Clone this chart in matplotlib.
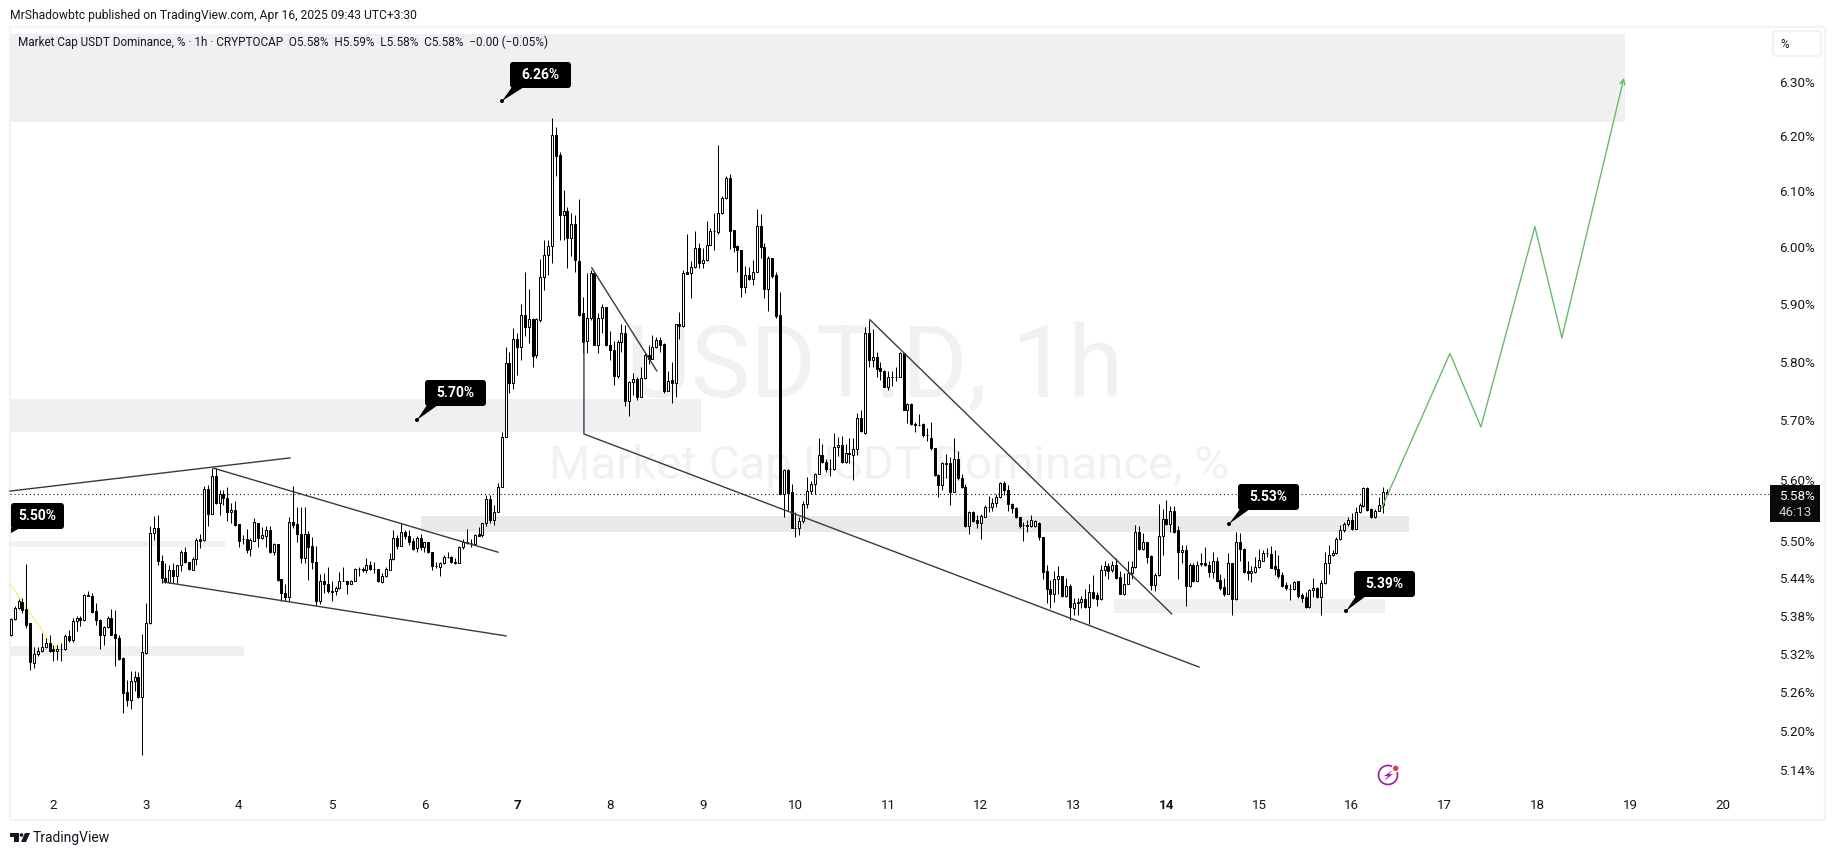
import matplotlib
matplotlib.use("Agg")
import matplotlib.pyplot as plt
import numpy as np
from matplotlib.patches import Rectangle, FancyBboxPatch, Polygon, Circle
from matplotlib.transforms import Affine2D

plt.rcParams["font.family"] = ["Roboto", "DejaVu Sans"]

# USDT.D 1h candles (13:00 Apr 1 to 09:00 Apr 16)
opens = [
    5.349,5.375,5.392,5.402,5.390,5.368,5.306,5.319,5.324,5.330,
    5.337,5.327,5.324,5.327,5.327,5.348,5.341,5.372,5.376,5.373,
    5.413,5.412,5.387,5.374,5.350,5.362,5.376,5.351,5.344,5.313,
    5.260,5.247,5.277,5.284,5.252,5.321,5.368,5.513,5.521,5.467,
    5.441,5.434,5.454,5.443,5.461,5.483,5.466,5.454,5.471,5.503,
    5.502,5.585,5.544,5.607,5.562,5.577,5.570,5.547,5.551,5.528,
    5.503,5.503,5.487,5.501,5.529,5.505,5.509,5.518,5.482,5.496,
    5.438,5.416,5.410,5.531,5.528,5.512,5.472,5.512,5.492,5.466,
    5.404,5.436,5.430,5.419,5.419,5.424,5.436,5.436,5.431,5.436,
    5.455,5.455,5.453,5.461,5.455,5.455,5.434,5.443,5.454,5.471,
    5.505,5.492,5.515,5.509,5.501,5.489,5.505,5.490,5.498,5.483,
    5.460,5.458,5.464,5.475,5.474,5.466,5.465,5.491,5.499,5.497,
    5.496,5.511,5.510,5.529,5.569,5.534,5.547,5.588,5.672,5.797,
    5.764,5.838,5.825,5.880,5.860,5.874,5.811,5.872,5.946,5.985,
    6.002,6.202,6.165,6.056,6.064,6.015,6.040,5.975,5.883,5.836,
    5.875,5.953,5.829,5.875,5.894,5.829,5.820,5.776,5.833,5.849,
    5.733,5.765,5.770,5.740,5.771,5.811,5.805,5.825,5.837,5.830,
    5.750,5.768,5.763,5.864,5.861,5.955,5.954,5.964,5.998,5.972,
    5.976,6.004,6.028,6.027,6.060,6.087,6.124,6.030,6.001,5.994,
    5.930,5.950,5.944,5.955,6.037,5.999,5.926,5.980,5.950,5.880,
    5.578,5.617,5.580,5.522,5.521,5.533,5.560,5.582,5.594,5.611,
    5.642,5.630,5.619,5.619,5.655,5.659,5.630,5.646,5.642,5.652,
    5.704,5.679,5.849,5.802,5.807,5.789,5.784,5.757,5.773,5.773,
    5.774,5.814,5.718,5.727,5.693,5.692,5.693,5.676,5.670,5.653,
    5.609,5.592,5.627,5.629,5.581,5.636,5.603,5.589,5.525,5.548,
    5.534,5.530,5.540,5.556,5.556,5.562,5.572,5.596,5.584,5.561,
    5.554,5.540,5.526,5.526,5.524,5.524,5.529,5.506,5.451,5.423,
    5.415,5.438,5.443,5.411,5.428,5.393,5.400,5.402,5.406,5.394,
    5.418,5.413,5.406,5.454,5.460,5.453,5.462,5.442,5.415,5.431,
    5.449,5.458,5.515,5.487,5.498,5.476,5.429,5.445,5.509,5.536,
    5.528,5.549,5.518,5.482,5.486,5.427,5.462,5.436,5.463,5.464,
    5.462,5.450,5.468,5.437,5.426,5.415,5.464,5.406,5.498,5.488,
    5.451,5.448,5.450,5.458,5.468,5.480,5.479,5.459,5.455,5.445,
    5.429,5.423,5.423,5.435,5.413,5.410,5.394,5.421,5.425,5.410,
    5.433,5.464,5.477,5.480,5.503,5.518,5.528,5.534,5.520,5.548,
    5.558,5.587,5.552,5.539,5.550,5.559,5.580,
]
highs = [
    5.376,5.395,5.407,5.408,5.463,5.369,5.331,5.331,5.352,5.344,
    5.349,5.334,5.334,5.337,5.351,5.358,5.376,5.379,5.379,5.415,
    5.419,5.417,5.400,5.375,5.364,5.379,5.390,5.389,5.349,5.315,
    5.279,5.293,5.293,5.292,5.351,5.400,5.525,5.541,5.542,5.478,
    5.464,5.462,5.464,5.462,5.486,5.490,5.466,5.475,5.505,5.512,
    5.591,5.592,5.621,5.620,5.583,5.584,5.588,5.562,5.565,5.528,
    5.510,5.519,5.505,5.537,5.530,5.523,5.524,5.525,5.497,5.496,
    5.438,5.430,5.540,5.591,5.555,5.555,5.555,5.516,5.507,5.492,
    5.447,5.449,5.458,5.435,5.427,5.450,5.458,5.436,5.437,5.456,
    5.458,5.458,5.472,5.467,5.466,5.455,5.449,5.458,5.481,5.518,
    5.510,5.529,5.518,5.518,5.505,5.508,5.512,5.499,5.499,5.483,
    5.466,5.466,5.477,5.483,5.476,5.472,5.492,5.503,5.519,5.503,
    5.511,5.523,5.530,5.576,5.576,5.559,5.595,5.680,5.825,5.817,
    5.857,5.849,5.900,5.956,5.925,5.875,5.875,5.978,6.012,6.013,
    6.233,6.216,6.171,6.101,6.071,6.060,6.057,6.085,5.912,5.953,
    5.959,5.956,5.883,5.900,5.894,5.853,5.836,5.837,5.865,5.863,
    5.767,5.780,5.773,5.791,5.814,5.829,5.846,5.842,5.842,5.832,
    5.783,5.799,5.865,5.885,5.959,6.023,5.975,6.028,6.007,5.998,
    6.046,6.033,6.061,6.184,6.091,6.127,6.131,6.030,6.003,5.995,
    5.966,5.965,5.977,6.067,6.059,6.006,5.983,5.980,5.956,5.921,
    5.618,5.618,5.594,5.547,5.540,5.565,5.606,5.599,5.612,5.670,
    5.661,5.635,5.636,5.678,5.672,5.674,5.660,5.670,5.670,5.713,
    5.718,5.860,5.872,5.856,5.817,5.800,5.785,5.783,5.783,5.791,
    5.817,5.815,5.729,5.729,5.698,5.711,5.695,5.687,5.698,5.653,
    5.611,5.631,5.644,5.639,5.671,5.649,5.611,5.594,5.549,5.550,
    5.543,5.544,5.559,5.574,5.570,5.577,5.597,5.598,5.592,5.563,
    5.555,5.540,5.532,5.534,5.543,5.534,5.532,5.507,5.461,5.437,
    5.452,5.459,5.443,5.440,5.430,5.408,5.408,5.411,5.423,5.430,
    5.445,5.418,5.461,5.467,5.464,5.467,5.472,5.452,5.448,5.468,
    5.467,5.526,5.524,5.513,5.499,5.477,5.448,5.561,5.552,5.567,
    5.557,5.557,5.524,5.494,5.494,5.464,5.464,5.467,5.480,5.490,
    5.467,5.483,5.474,5.447,5.440,5.481,5.465,5.515,5.513,5.489,
    5.467,5.460,5.475,5.487,5.485,5.489,5.492,5.486,5.477,5.450,
    5.434,5.431,5.435,5.435,5.416,5.418,5.423,5.440,5.426,5.437,
    5.483,5.494,5.485,5.507,5.526,5.532,5.540,5.546,5.556,5.562,
    5.588,5.589,5.554,5.552,5.573,5.589,5.585,
]
lows = [
    5.348,5.374,5.390,5.384,5.360,5.294,5.297,5.316,5.323,5.329,
    5.323,5.309,5.310,5.308,5.326,5.339,5.339,5.356,5.364,5.371,
    5.411,5.385,5.366,5.328,5.334,5.360,5.350,5.300,5.310,5.228,
    5.239,5.233,5.261,5.251,5.163,5.320,5.367,5.502,5.462,5.432,
    5.433,5.433,5.433,5.433,5.451,5.464,5.454,5.453,5.462,5.489,
    5.501,5.524,5.544,5.561,5.542,5.559,5.533,5.530,5.525,5.491,
    5.495,5.481,5.476,5.501,5.490,5.503,5.491,5.481,5.478,5.436,
    5.404,5.403,5.403,5.521,5.499,5.464,5.464,5.437,5.455,5.396,
    5.398,5.416,5.417,5.403,5.413,5.422,5.435,5.415,5.431,5.436,
    5.443,5.450,5.449,5.453,5.449,5.434,5.433,5.442,5.453,5.469,
    5.487,5.492,5.503,5.494,5.486,5.483,5.486,5.483,5.481,5.454,
    5.456,5.444,5.463,5.472,5.464,5.463,5.464,5.488,5.496,5.491,
    5.495,5.508,5.507,5.524,5.530,5.527,5.547,5.588,5.672,5.747,
    5.753,5.777,5.802,5.844,5.832,5.791,5.806,5.869,5.924,5.950,
    5.972,6.127,6.012,6.013,5.963,5.983,5.956,5.878,5.815,5.815,
    5.872,5.828,5.814,5.849,5.827,5.802,5.760,5.771,5.817,5.725,
    5.707,5.743,5.735,5.739,5.770,5.796,5.804,5.823,5.817,5.746,
    5.749,5.729,5.739,5.839,5.860,5.952,5.910,5.962,5.962,5.962,
    5.975,6.003,5.994,6.023,6.059,6.086,5.997,5.991,5.956,5.912,
    5.919,5.942,5.932,5.955,5.980,5.910,5.888,5.945,5.875,5.577,
    5.539,5.550,5.521,5.506,5.510,5.530,5.554,5.578,5.577,5.611,
    5.629,5.614,5.607,5.617,5.640,5.628,5.628,5.629,5.600,5.642,
    5.681,5.677,5.791,5.791,5.774,5.769,5.756,5.752,5.758,5.767,
    5.773,5.717,5.696,5.692,5.681,5.690,5.672,5.666,5.651,5.607,
    5.573,5.584,5.603,5.559,5.581,5.600,5.587,5.523,5.511,5.531,
    5.522,5.504,5.539,5.548,5.550,5.556,5.570,5.576,5.550,5.546,
    5.537,5.521,5.501,5.515,5.523,5.523,5.502,5.439,5.400,5.393,
    5.402,5.415,5.410,5.410,5.374,5.381,5.381,5.392,5.392,5.367,
    5.406,5.395,5.405,5.443,5.439,5.450,5.439,5.414,5.413,5.430,
    5.438,5.457,5.485,5.485,5.464,5.421,5.420,5.444,5.477,5.526,
    5.515,5.514,5.438,5.464,5.395,5.426,5.434,5.436,5.459,5.460,
    5.442,5.441,5.434,5.421,5.411,5.414,5.381,5.405,5.467,5.449,
    5.437,5.434,5.449,5.456,5.467,5.475,5.456,5.445,5.441,5.426,
    5.421,5.405,5.421,5.409,5.402,5.393,5.393,5.410,5.409,5.381,
    5.431,5.447,5.476,5.479,5.502,5.515,5.524,5.518,5.520,5.546,
    5.555,5.550,5.537,5.537,5.549,5.546,5.576,
]
closes = [
    5.375,5.392,5.403,5.389,5.366,5.307,5.319,5.324,5.330,5.337,
    5.324,5.324,5.327,5.327,5.348,5.341,5.372,5.376,5.373,5.413,
    5.412,5.386,5.374,5.350,5.362,5.376,5.350,5.344,5.312,5.259,
    5.247,5.277,5.284,5.252,5.322,5.368,5.513,5.521,5.467,5.441,
    5.435,5.453,5.443,5.461,5.482,5.466,5.455,5.471,5.502,5.501,
    5.585,5.544,5.607,5.562,5.577,5.570,5.547,5.551,5.527,5.501,
    5.503,5.486,5.502,5.531,5.505,5.510,5.518,5.482,5.496,5.437,
    5.416,5.410,5.531,5.527,5.511,5.472,5.512,5.491,5.466,5.404,
    5.436,5.430,5.419,5.418,5.424,5.435,5.436,5.431,5.436,5.455,
    5.455,5.454,5.461,5.455,5.455,5.435,5.444,5.455,5.471,5.505,
    5.492,5.515,5.508,5.499,5.488,5.505,5.490,5.498,5.482,5.459,
    5.459,5.464,5.475,5.474,5.466,5.465,5.491,5.499,5.497,5.497,
    5.510,5.509,5.529,5.569,5.534,5.547,5.588,5.672,5.797,5.764,
    5.838,5.825,5.880,5.859,5.874,5.810,5.873,5.946,5.985,6.002,
    6.202,6.164,6.056,6.064,6.015,6.040,5.976,5.881,5.834,5.875,
    5.953,5.829,5.875,5.894,5.829,5.819,5.776,5.833,5.849,5.733,
    5.765,5.770,5.740,5.771,5.811,5.805,5.825,5.837,5.829,5.750,
    5.767,5.763,5.864,5.861,5.953,5.952,5.964,5.998,5.972,5.977,
    6.004,6.028,6.029,6.060,6.087,6.124,6.029,6.000,5.994,5.930,
    5.950,5.943,5.955,6.037,5.999,5.926,5.980,5.949,5.878,5.578,
    5.617,5.579,5.522,5.521,5.533,5.560,5.582,5.594,5.611,5.642,
    5.630,5.619,5.618,5.655,5.659,5.630,5.646,5.644,5.652,5.704,
    5.682,5.849,5.802,5.807,5.788,5.784,5.757,5.773,5.773,5.774,
    5.814,5.718,5.727,5.693,5.692,5.692,5.675,5.675,5.653,5.608,
    5.592,5.628,5.629,5.581,5.636,5.603,5.588,5.525,5.548,5.533,
    5.530,5.541,5.556,5.556,5.562,5.572,5.595,5.583,5.561,5.554,
    5.539,5.525,5.526,5.525,5.534,5.533,5.506,5.450,5.423,5.414,
    5.438,5.443,5.411,5.428,5.394,5.401,5.402,5.406,5.394,5.418,
    5.409,5.406,5.454,5.460,5.452,5.461,5.441,5.415,5.431,5.449,
    5.458,5.515,5.487,5.498,5.475,5.429,5.445,5.509,5.536,5.528,
    5.549,5.515,5.482,5.486,5.427,5.462,5.435,5.462,5.464,5.461,
    5.450,5.467,5.435,5.425,5.414,5.464,5.406,5.498,5.487,5.450,
    5.448,5.451,5.458,5.469,5.480,5.480,5.457,5.455,5.443,5.427,
    5.425,5.423,5.434,5.411,5.409,5.394,5.421,5.425,5.410,5.433,
    5.464,5.477,5.480,5.503,5.518,5.528,5.534,5.520,5.548,5.559,
    5.587,5.551,5.539,5.550,5.559,5.580,5.578,
]
last_bar_day = 16.375
last_price = 5.578

day_ticks = list(range(2, 21))
bold_days = [7, 14]
price_ticks = [5.14, 5.20, 5.26, 5.32, 5.38, 5.44, 5.50, 5.60, 5.70, 5.80, 5.90, 6.00, 6.10, 6.20, 6.30]

# grey zones: day from, day to, price low, price high
left_day = 1.532
zones_light = [
    (left_day, 18.945, 6.226, 6.390),
    (left_day, 8.98, 5.681, 5.736),
    (left_day, 3.85, 5.4905, 5.500),
    (left_day, 4.06, 5.3163, 5.332),
    (13.44, 16.353, 5.3843, 5.4067),
]
zones_dark = [(5.965, 16.62, 5.515, 5.541)]

# drawn lines as (day, price)
trend_lines = [
    ([left_day, 4.551], [5.582, 5.637]),
    ([3.725, 6.794], [5.620, 5.482]),
    ([3.182, 6.880], [5.434, 5.348]),
    ([7.720, 7.720, 14.352], [5.834, 5.677, 5.299]),
    ([7.804, 8.505], [5.963, 5.784]),
    ([10.804, 14.057], [5.872, 5.383]),
]
yellow_days = [1.540, 2.017, 2.060]
yellow_prices = [5.429, 5.327, 5.337]
green_days = [16.321, 17.057, 17.391, 17.973, 18.264, 18.933]
green_prices = [5.554, 5.814, 5.689, 6.036, 5.841, 6.3075]

fig = plt.figure(figsize=(18.35, 8.55), dpi=100, facecolor="white")
ax = fig.add_axes([10 / 1835, 1 - 790 / 855, 1760 / 1835, 763 / 855])
# pixel positions measured from the top left, for the things around the chart
pix = Affine2D().scale(1, -1).translate(0, 855)

ax.set_yscale("log")
ax.set_xlim(left_day, 20.508)
ax.set_ylim(5.1098, 6.403)
for s in ax.spines.values():
    s.set_visible(False)
ax.minorticks_off()
ax.set_xticks(day_ticks)
ax.set_xticklabels([str(d) for d in day_ticks])
ax.set_yticks(price_ticks)
ax.set_yticklabels(["%.2f%%" % p for p in price_ticks])
ax.yaxis.tick_right()
ax.tick_params(axis="both", which="both", length=0, labelsize=9.6, labelcolor="#131722")
ax.tick_params(axis="y", pad=6.5)
ax.tick_params(axis="x", pad=6.5)
for lab, d in zip(ax.get_xticklabels(), day_ticks):
    if d in bold_days:
        lab.set_fontweight("bold")

# watermark
ax.text(875, 369, "USDT.D, 1h", transform=pix, fontsize=72, color="#f1f1f2", ha="center", va="center", zorder=0)
ax.text(889, 466, "Market Cap USDT Dominance, %", transform=pix, fontsize=34.2, color="#f1f1f2", ha="center", va="center", zorder=0)

# zones
for x0, x1, p0, p1 in zones_light:
    ax.add_patch(Rectangle((x0, p0), x1 - x0, p1 - p0, facecolor="#eff0f2", edgecolor="none", zorder=1))
for x0, x1, p0, p1 in zones_dark:
    ax.add_patch(Rectangle((x0, p0), x1 - x0, p1 - p0, facecolor="#e9e9ea", edgecolor="none", zorder=1))

# candles
opens = np.array(opens)
closes = np.array(closes)
n = len(opens)
days = last_bar_day - (n - 1 - np.arange(n)) / 24
ax.vlines(days, lows, highs, color="black", linewidth=0.72, zorder=3)
body_low = np.minimum(opens, closes)
body_h = np.abs(closes - opens)
face = ["black" if c < o else "white" for o, c in zip(opens, closes)]
ax.bar(days, body_h, width=2 / 92.75, bottom=body_low, color=face, edgecolor="black", linewidth=0.72, zorder=4)

# drawings
for xs, ys in trend_lines:
    ax.plot(xs, ys, color="#363a45", linewidth=1.0, zorder=5, clip_on=False)
ax.plot(yellow_days, yellow_prices, color="#fff176", linewidth=1.0, zorder=2)
ax.plot(green_days[:-1], green_prices[:-1], color="#66bb6a", linewidth=1.0, zorder=5)
ax.annotate("", xy=(green_days[-1], green_prices[-1]), xytext=(green_days[-2], green_prices[-2]),
            arrowprops=dict(arrowstyle="->", color="#66bb6a", lw=1.0, shrinkA=0, shrinkB=0, mutation_scale=9), zorder=5)

# last price line
ax.axhline(last_price, color="#131722", linewidth=0.8, linestyle=(0, (1, 2.5)), zorder=2)


def callout(text, x0, y0, x1, y1, tail, tip, dot=True):
    ax.add_patch(FancyBboxPatch((x0 + 2, y0 + 2), x1 - x0 - 4, y1 - y0 - 4, boxstyle="round,pad=2,rounding_size=3",
                                transform=pix, facecolor="black", edgecolor="none", zorder=8, clip_on=False))
    ax.add_patch(Polygon([(tail[0], y1 - 1), (tail[1], y1 - 1), tip], transform=pix, facecolor="black",
                         edgecolor="none", zorder=8, clip_on=False))
    if dot:
        ax.add_patch(Circle(tip, 2, transform=pix, facecolor="black", edgecolor="none", zorder=8, clip_on=False))
    ax.text((x0 + x1) / 2, (y0 + y1) / 2, text, transform=pix, color="white", fontsize=10, fontweight="bold",
            ha="center", va="center", zorder=9)


callout("6.26%", 510, 62, 571, 88, (512, 524), (502, 101))
callout("5.70%", 425, 380, 486, 406, (427, 438), (417, 420))
callout("5.50%", 11, 503, 64, 529, (11, 20), (11, 533), dot=False)
callout("5.53%", 1238, 484, 1299, 510, (1240, 1250), (1229, 524))
callout("5.39%", 1354, 571, 1415, 597, (1356, 1366), (1346, 611))

# price tag
ax.add_patch(Rectangle((1770, 485), 50, 37, transform=pix, facecolor="#0a0a0a", edgecolor="none", zorder=8, clip_on=False))
ax.text(1779, 496, "5.58%", transform=pix, color="white", fontsize=9.6, ha="left", va="center", zorder=9)
ax.text(1779, 512, "46:13", transform=pix, color="#cfd0d4", fontsize=9.6, ha="left", va="center", zorder=9)

# frame and percent button
ax.add_patch(Rectangle((10, 27), 1815, 793, transform=pix, facecolor="none", edgecolor="#f0f3fa", linewidth=1.6, zorder=0, clip_on=False))
ax.add_patch(FancyBboxPatch((1775, 33), 44, 21, boxstyle="round,pad=2,rounding_size=3", transform=pix,
                            facecolor="white", edgecolor="#eceff4", linewidth=1.2, zorder=2, clip_on=False))
ax.text(1785, 44, "%", transform=pix, fontsize=8.5, color="#131722", ha="center", va="center", zorder=3)

# header text
ax.text(10, 15, "MrShadowbtc published on TradingView.com, Apr 16, 2025 09:43 UTC+3:30", transform=pix,
        fontsize=8.7, color="#131722", ha="left", va="center")
ax.text(18, 42, "Market Cap USDT Dominance, % · 1h · CRYPTOCAP  O5.58%  H5.59%  L5.58%  C5.58%  −0.00 (−0.05%)",
        transform=pix, fontsize=8.5, color="#131722", ha="left", va="center", zorder=6)

# logo at the bottom
ax.add_patch(Polygon([(10, 833), (19, 833), (19, 842), (14, 842), (14, 837), (10, 837)], transform=pix,
                     facecolor="#131722", edgecolor="none", clip_on=False))
ax.add_patch(Circle((21.5, 835), 1.8, transform=pix, facecolor="#131722", edgecolor="none", clip_on=False))
ax.add_patch(Polygon([(25, 833), (30, 833), (26, 842), (21, 842)], transform=pix, facecolor="#131722",
                     edgecolor="none", clip_on=False))
ax.text(33, 838, "TradingView", transform=pix, fontsize=10, color="#131722", ha="left", va="center")

# flash icon
ax.add_patch(Circle((1388, 775), 9.5, transform=pix, facecolor="white", edgecolor="#9c27b0", linewidth=1.3, zorder=6, clip_on=False))
ax.add_patch(Polygon([(1393, 770), (1384, 776), (1388, 776), (1384, 781), (1393, 774), (1389, 774)], transform=pix,
                     facecolor="#9c27b0", edgecolor="none", zorder=7, clip_on=False))
ax.add_patch(Circle((1395.7, 768.3), 4.2, transform=pix, facecolor="white", edgecolor="none", zorder=7, clip_on=False))
ax.add_patch(Circle((1395.7, 768.3), 2.7, transform=pix, facecolor="#f23645", edgecolor="none", zorder=8, clip_on=False))

fig.savefig("out.png", dpi=100)
